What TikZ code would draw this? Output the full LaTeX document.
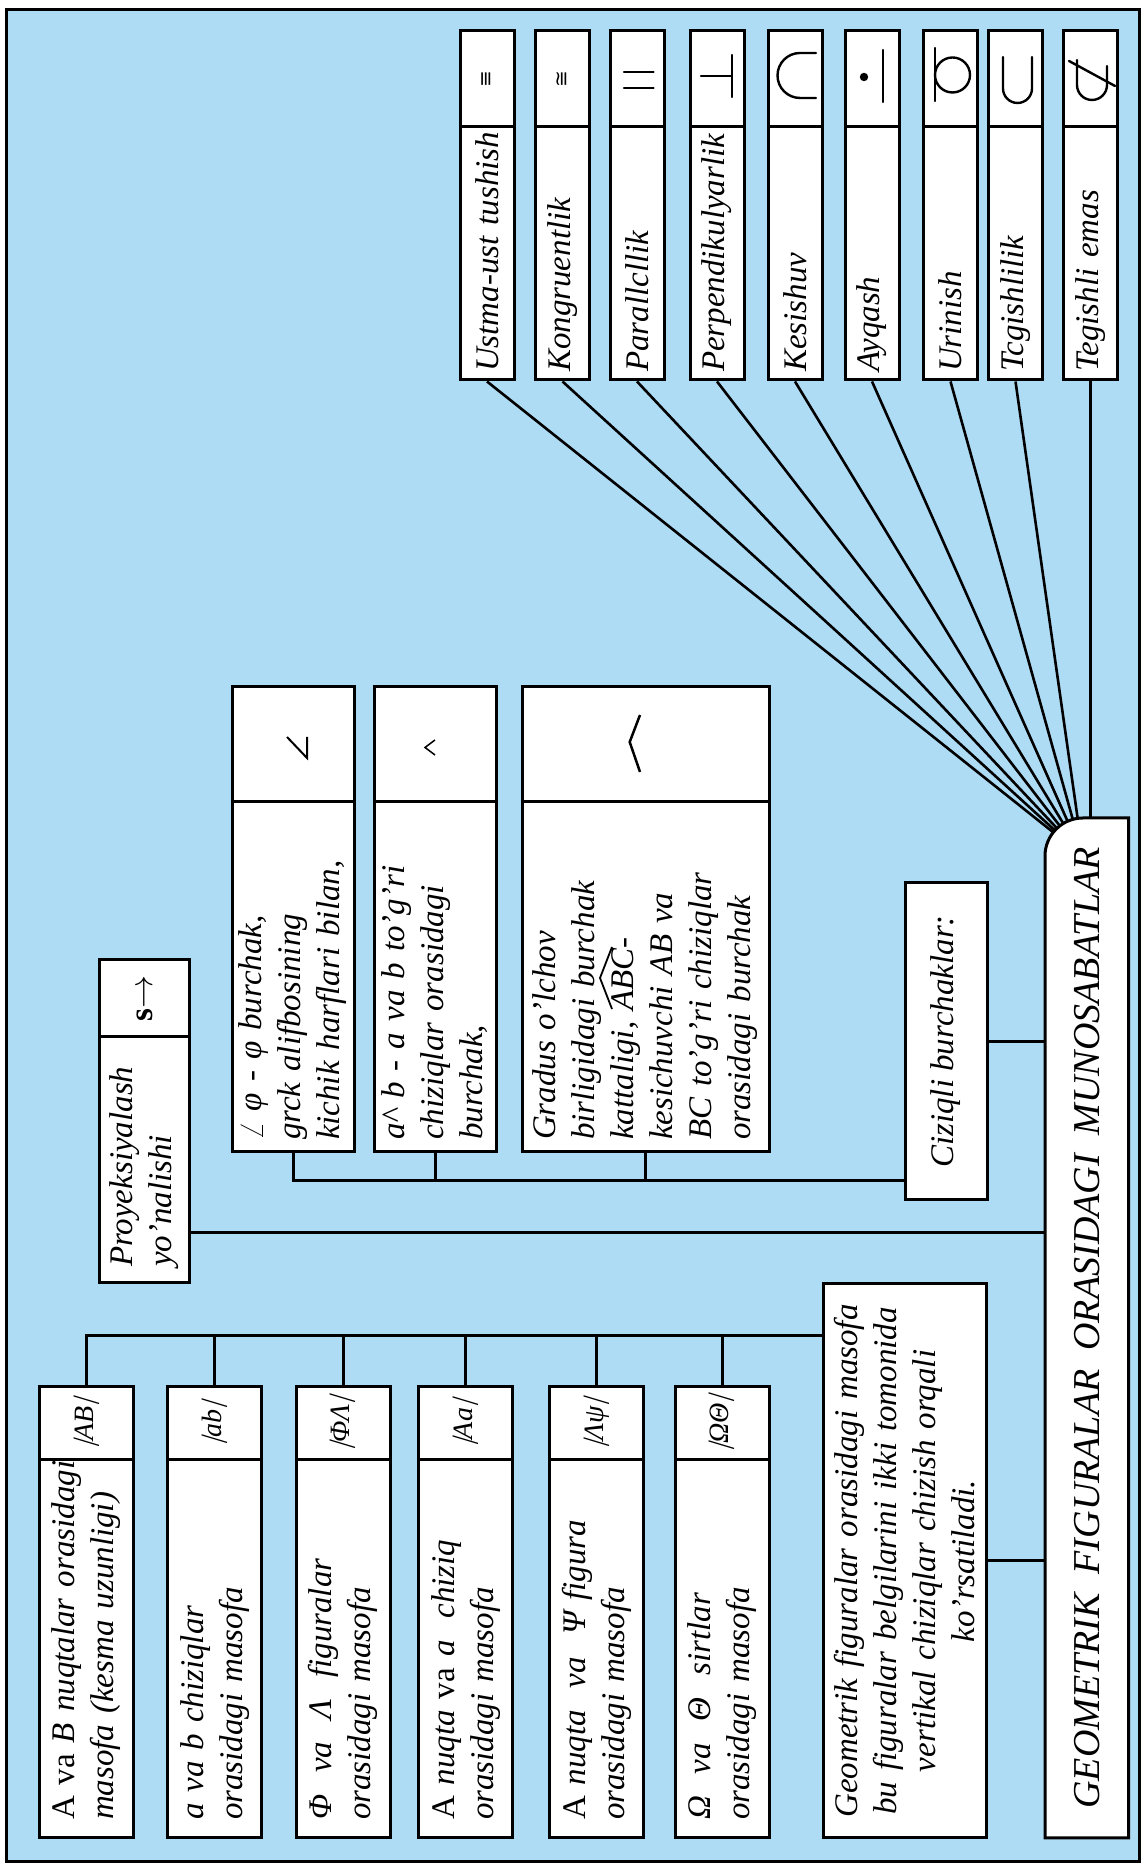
\documentclass[tikz,border=0pt]{standalone}
\usepackage{fix-cm}
\usepackage{fontspec}
\setmainfont{Liberation Serif}
\newfontfamily\symf{DejaVu Sans}
\newfontfamily\slbar[FakeSlant=0.3]{Liberation Serif}
\usetikzlibrary{calc}
\definecolor{bgblue}{RGB}{175,220,245}
\begin{document}
\begin{tikzpicture}[x=1pt,y=1pt,
  bx/.style={draw=black, line width=3pt, fill=white, inner sep=0pt},
  txt/.style={font=\fontsize{33}{39}\selectfont\itshape},
  lab/.style={bx, txt, align=left},
  symb/.style={bx, font=\fontsize{28}{30}\selectfont\itshape},
  ln/.style={line width=3pt},
  fan/.style={line width=2.6pt},
  sy/.style={line width=2.4pt, line cap=round},
]
\fill[white] (0,0) rectangle (1147,1872);
\useasboundingbox (0,0) rectangle (1147,1872);
\begin{scope}[rotate=90, transform shape]
  % frame
  \draw[fill=bgblue, line width=3pt] (10,-1139.6) rectangle (1862,-6.6);

  % ---------- top row of relations ----------
  \node[lab, minimum width=253, minimum height=54, text width=237, inner xsep=8] (u1) at (1618.5,-487) {\mbox{Ustma-ust tushish}};
  \node[lab, minimum width=253, minimum height=54, text width=237, inner xsep=8] (u2) at (1618.5,-562.5) {Kongruentlik};
  \node[lab, minimum width=253, minimum height=54, text width=237, inner xsep=8] (u3) at (1618.5,-637) {Parallcllik};
  \node[lab, minimum width=253, minimum height=54, text width=237, inner xsep=8] (u4) at (1618.5,-717) {Perpendikulyarlik};
  \node[lab, minimum width=253, minimum height=54, text width=237, inner xsep=8] (u5) at (1618.5,-795) {Kesishuv};
  \node[lab, minimum width=253, minimum height=54, text width=237, inner xsep=8] (u6) at (1618.5,-872) {Ayqash};
  \node[lab, minimum width=253, minimum height=54, text width=237, inner xsep=8] (u7) at (1618.5,-950.5) {Urinish};
  \node[lab, minimum width=253, minimum height=54, text width=237, inner xsep=8] (u8) at (1618.5,-1015.5) {Tcgishlilik};
  \node[lab, minimum width=253, minimum height=54, text width=237, inner xsep=8] (u9) at (1618.5,-1090.5) {\mbox{Tegishli emas}};

  \node[bx, minimum width=96, minimum height=54, font=\symf\fontsize{20}{20}\selectfont] (u1s) at (1793,-487) {≡};
  \node[bx, minimum width=96, minimum height=54, font=\symf\fontsize{20}{20}\selectfont] (u2s) at (1793,-562.5) {≅};
  \node[bx, minimum width=96, minimum height=54] (u3s) at (1793,-637) {};
  \node[bx, minimum width=96, minimum height=54] (u4s) at (1793,-717) {};
  \node[bx, minimum width=96, minimum height=54] (u5s) at (1793,-795) {};
  \node[bx, minimum width=96, minimum height=54] (u6s) at (1793,-872) {};
  \node[bx, minimum width=96, minimum height=54] (u7s) at (1793,-950.5) {};
  \node[bx, minimum width=96, minimum height=54] (u8s) at (1793,-1015.5) {};
  \node[bx, minimum width=96, minimum height=54] (u9s) at (1793,-1090.5) {};

  % drawn symbols
  \draw[sy] (1784,-624) -- (1784,-653.5) (1800,-624) -- (1800,-653.5);
  \draw[sy] (1775,-732) -- (1817,-732) (1796,-701) -- (1796,-732);
  \draw[sy] (1774,-816) -- (1774,-800) arc[start angle=180, end angle=0, radius=22.5] -- (1819,-816);
  \draw[sy] (1770,-883) -- (1822,-883);
  \fill (1795,-864) circle[radius=4.2];
  \draw[sy] (1771,-935) -- (1824,-935);
  \draw[line width=2.4pt] (1797,-952.5) circle[radius=17.5];
  \draw[sy] (1815,-1003) -- (1783.5,-1003) arc[start angle=90, end angle=270, radius=14.5] -- (1815,-1032);
  \draw[sy] (1812,-1077) -- (1787,-1077) arc[start angle=90, end angle=270, radius=15] -- (1806,-1107);
  \draw[sy] (1786,-1115) -- (1811,-1069);

  % ---------- angle boxes ----------
  \node[lab, minimum width=350, minimum height=122, text width=326, inner xsep=12] (a1) at (895,-293)
    {\mbox{$\angle$ φ - φ burchak,}\\ \mbox{grck alifbosining}\\ \mbox{kichik harflari bilan,}};
  \node[lab, minimum width=350, minimum height=122, text width=326, inner xsep=12] (a2) at (895,-435)
    {\mbox{a\textasciicircum\ b - a va b to'g'ri}\\ \mbox{chiziqlar orasidagi}\\ burchak,};
  \node[lab, minimum width=350, minimum height=247, text width=326, inner xsep=12] (a3) at (895,-645.5)
    {\mbox{Gradus o'lchov}\\ \mbox{birligidagi burchak}\\ \mbox{kattaligi, ABC-}\\ \mbox{kesichuvchi AB va}\\ \mbox{BC to'g'ri chiziqlar}\\ \mbox{orasidagi burchak}};
  % hat over ABC
  \draw[line width=1.8pt, line join=miter] (863,-612) -- (894,-600) -- (925,-612);
  \node[bx, minimum width=115, minimum height=122] (a1s) at (1127.5,-293) {};
  \node[bx, minimum width=115, minimum height=122] (a2s) at (1127.5,-435) {};
  \node[bx, minimum width=115, minimum height=247] (a3s) at (1127.5,-645.5) {};
  \draw[line width=2pt, line join=miter] (1135,-287) -- (1114,-307) -- (1135,-307);
  \draw[line width=1.5pt] (1117,-435) -- (1124.5,-425) -- (1132,-435);
  \draw[line width=2.5pt] (1100,-640) -- (1130,-629.7) -- (1157,-640);

  \node[bx, txt, minimum width=317, minimum height=82] (ciz) at (830.5,-946) {\mbox{Ciziqli burchaklar:}};

  % ---------- projection ----------
  \node[lab, minimum width=246, minimum height=90, text width=214, inner xsep=16] (pr) at (712,-144.6)
    {Proyeksiyalash\\ yo'nalishi};
  \node[bx, minimum width=77, minimum height=90, font=\fontsize{33}{33}\selectfont] (prs) at (873.5,-144.6)
    {\textbf{s}$\rightarrow$};

  % ---------- distance boxes ----------
  \node[lab, minimum width=378, minimum height=94, text width=342, inner xsep=18] (d1) at (223,-86.5)
    {\mbox{{\upshape A va} B nuqtalar orasidagi}\\ \mbox{masofa (kesma uzunligi)}};
  \node[lab, minimum width=378, minimum height=94, text width=342, inner xsep=18] (d2) at (223,-214.6)
    {\mbox{a va b chiziqlar}\\ \mbox{orasidagi masofa}};
  \node[lab, minimum width=378, minimum height=94, text width=342, inner xsep=18] (d3) at (223,-343)
    {\mbox{Φ\ \ va\ \ Λ\ \ figuralar}\\ \mbox{orasidagi masofa}};
  \node[lab, minimum width=378, minimum height=94, text width=342, inner xsep=18] (d4) at (223,-465.7)
    {\mbox{{\upshape A} nuqta {\upshape va} a\ \ chiziq}\\ \mbox{orasidagi masofa}};
  \node[lab, minimum width=378, minimum height=94, text width=342, inner xsep=18] (d5) at (223,-596.7)
    {\mbox{{\upshape A} nuqta\ \ va\ \ Ψ figura}\\ \mbox{orasidagi masofa}};
  \node[lab, minimum width=378, minimum height=94, text width=342, inner xsep=18] (d6) at (223,-722.2)
    {\mbox{Ω\ \ va\ \ Θ\ \ sirtlar}\\ \mbox{orasidagi masofa}};

  \node[symb, minimum width=73, minimum height=94] (d1s) at (448.5,-86.5) {{\slbar|}AB{\slbar|}};
  \node[symb, minimum width=73, minimum height=94] (d2s) at (448.5,-214.6) {{\slbar|}ab{\slbar|}};
  \node[symb, minimum width=73, minimum height=94] (d3s) at (448.5,-343) {{\slbar|}ΦΛ{\slbar|}};
  \node[symb, minimum width=73, minimum height=94] (d4s) at (448.5,-465.7) {{\slbar|}Aa{\slbar|}};
  \node[symb, minimum width=73, minimum height=94] (d5s) at (448.5,-596.7) {{\slbar|}Λψ{\slbar|}};
  \node[symb, minimum width=73, minimum height=94] (d6s) at (448.5,-722.2) {{\slbar|}ΩΘ{\slbar|}};

  \node[bx, txt, align=center, minimum width=554, minimum height=163.6, text width=524, inner xsep=15] (tb) at (311,-904.8)
    {\mbox{Geometrik figuralar orasidagi masofa}\\ \mbox{bu figuralar belgilarini ikki tomonida}\\ \mbox{vertikal chiziqlar chizish orqali}\\ ko'rsatiladi.};

  % ---------- title ----------
  \filldraw[fill=white, line width=3pt] (34,-1128.6) -- (34,-1045) -- (1016,-1045)
     arc[start angle=90, end angle=0, radius=38] -- (1054,-1128.6) -- cycle;
  \node[font=\fontsize{38}{44}\selectfont\itshape, minimum width=1020, minimum height=83.6, inner sep=0] (title) at (544,-1086.8)
    {GEOMETRIK\ \ FIGURALAR\ \ ORASIDAGI\ \ MUNOSABATLAR};

  % ---------- connectors ----------
  \coordinate (cc) at (1016,-1083);
  \coordinate (ab) at (691,0);
  \coordinate (pb) at (639,0);
  \coordinate (db) at (536,0);

  \foreach \i in {1,...,8} \draw[fan] (u\i.west) -- ($(cc)!38pt!(u\i.west)$);
  \draw[fan] (u9.west) -- (u9.west -| title.east);

  \draw[ln] (a1.west) -- (a1.west -| ab) -- (ab |- ciz.north);
  \draw[ln] (a2.west) -- (a2.west -| ab);
  \draw[ln] (a3.west) -- (a3.west -| ab);
  \draw[ln] (ciz.south) -- (ciz.south |- title.north);

  \draw[ln] (pb |- pr.south) -- (pb |- title.north);

  \draw[ln] (d1s.east) -- (d1s.east -| db) -- (db |- tb.north);
  \foreach \i in {2,...,6} \draw[ln] (d\i s.east) -- (d\i s.east -| db);
  \draw[ln] (tb.south) -- (tb.south |- title.north);
\end{scope}
\end{tikzpicture}
\end{document}
